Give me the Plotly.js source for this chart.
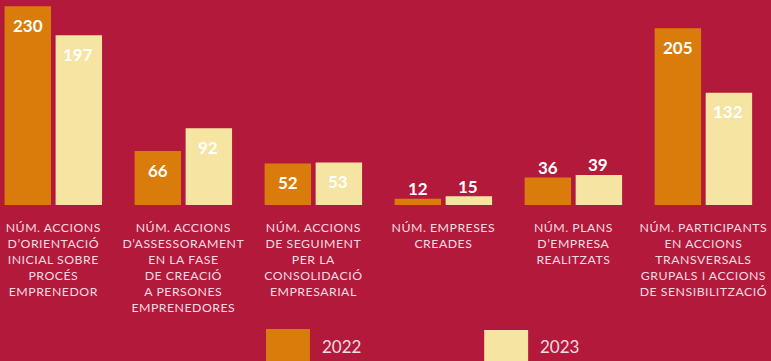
<!DOCTYPE html>
<html>
<head>
<meta charset="utf-8">
<script src="https://cdn.plot.ly/plotly-3.0.1.min.js"></script>
<style>
html,body{margin:0;padding:0;background:#b3193b;}
#chart{width:771px;height:361px;}
.xtick text{letter-spacing:0.5px;}
</style>
</head>
<body>
<div id="chart"></div>
<script>
// ---- data ----
var categories = [
  "NÚM. ACCIONS<br>D’ORIENTACIÓ<br>INICIAL SOBRE<br>PROCÉS<br>EMPRENEDOR",
  "NÚM. ACCIONS<br>D’ASSESSORAMENT<br>EN LA FASE<br>DE CREACIÓ<br>A PERSONES<br>EMPRENEDORES",
  "NÚM. ACCIONS<br>DE SEGUIMENT<br>PER LA<br>CONSOLIDACIÓ<br>EMPRESARIAL",
  "NÚM. EMPRESES<br>CREADES",
  "NÚM. PLANS<br>D’EMPRESA<br>REALITZATS",
  "NÚM. PARTICIPANTS<br>EN ACCIONS<br>TRANSVERSALS<br>GRUPALS I ACCIONS<br>DE SENSIBILITZACIÓ"
];
var seriesNames = ["2022", "2023"];
var values2022 = [230, 66, 52, 12, 36, 205];
var values2023 = [197, 92, 53, 15, 39, 132];

// ---- styles ----
var BG = "#b3193b";
var ORANGE = "#d97c0b";
var CREAM = "#f6e4a3";
var LABEL = "#f5dde2";
var idx = categories.map(function(_, i){ return i; });

var traces = [
  {type:"bar", x:idx, y:values2022, name:seriesNames[0], marker:{color:ORANGE}, hoverinfo:"none"},
  {type:"bar", x:idx, y:values2023, name:seriesNames[1], marker:{color:CREAM}, hoverinfo:"none"}
];

// value labels: inside near the top for tall bars, above for short ones
var annotations = [];
[values2022, values2023].forEach(function(vals, s){
  vals.forEach(function(v, i){
    var inside = v >= 50;
    annotations.push({
      x: i, y: v, xref:"x", yref:"y",
      text: String(v), showarrow:false,
      xshift: s === 0 ? -25 : 25,
      yshift: inside ? -19 : 10,
      yanchor:"middle",
      font:{family:"Lato, 'Open Sans', sans-serif", size:17, color:"#ffffff", weight:"bold"}
    });
  });
});

// legend (custom large swatches)
var shapes = [];
var legendX = [[0.345, 0.402, 0.415], [0.628, 0.685, 0.698]];
var swatchColors = [ORANGE, CREAM];
seriesNames.forEach(function(n, s){
  shapes.push({type:"rect", xref:"paper", yref:"paper",
    x0:legendX[s][0], x1:legendX[s][1], y0:-0.77, y1: s === 0 ? -0.605 : -0.61,
    fillcolor:swatchColors[s], line:{width:0}});
  annotations.push({xref:"paper", yref:"paper", x:legendX[s][2], y:-0.69,
    xanchor:"left", yanchor:"middle", text:n, showarrow:false,
    font:{family:"Lato, 'Open Sans', sans-serif", size:17, color:LABEL}});
});

var layout = {
  width:771, height:361,
  margin:{l:0, r:0, t:0, b:156, pad:0},
  paper_bgcolor:BG, plot_bgcolor:BG,
  showlegend:false,
  barmode:"group", bargap:0.215, bargroupgap:0.09,
  xaxis:{
    range:[-0.41, 5.52], tickmode:"array", tickvals:idx, ticktext:categories,
    tickangle:0, showgrid:false, zeroline:false, showline:false, ticks:"",
    automargin:false, ticklabelstandoff:14,
    tickfont:{family:"Lato, 'Open Sans', sans-serif", size:12.3, color:LABEL}
  },
  yaxis:{range:[5, 237], visible:false, showgrid:false, zeroline:false, fixedrange:true},
  annotations:annotations,
  shapes:shapes
};

Plotly.newPlot("chart", traces, layout, {displayModeBar:false, staticPlot:true});
</script>
</body>
</html>
